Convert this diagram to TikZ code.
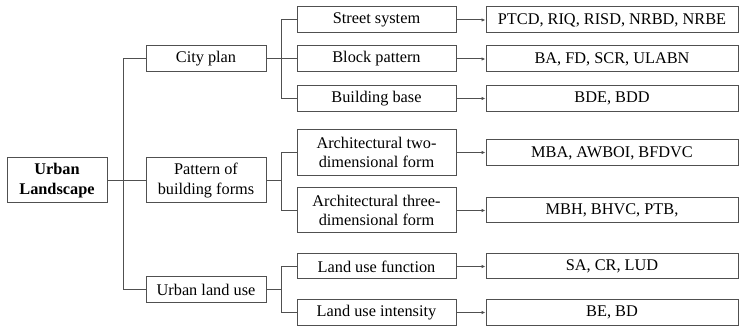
\documentclass[tikz,border=0pt]{standalone}
\usepackage{fontspec}
\setmainfont{Liberation Serif}
\newfontfamily\tnr{Liberation Serif}
\usetikzlibrary{arrows.meta}
\definecolor{lc}{HTML}{505050}
\begin{document}
\begin{tikzpicture}[x=1pt,y=-1pt,
  box/.style={draw=lc,line width=1pt,inner sep=0pt,align=center,font=\tnr\fontsize{16.3}{19.5}\selectfont,text=black},
  mid/.style={box,minimum width=120pt},
  sub/.style={box,minimum width=159pt},
  res/.style={box,minimum width=252pt},
  ln/.style={draw=lc,line width=1pt},
  arr/.style={ln,-{Latex[length=4pt,width=3.5pt]}}]
\useasboundingbox (0,0) rectangle (740,328);
\node[box,minimum width=100pt,minimum height=45pt,font=\tnr\bfseries\fontsize{16.3}{19.5}\selectfont] (ul) at (57,180.5) {Urban\\Landscape};
\node[mid,minimum height=26pt] (city) at (206,59) {City plan};
\node[mid,minimum height=45pt] (pat) at (206,180.5) {Pattern of\\building forms};
\node[mid,minimum height=26pt] (use) at (206,290) {Urban land use};
\node[sub,minimum height=26pt] (street) at (376.5,20) {Street system};
\node[sub,minimum height=26pt] (block) at (376.5,59) {Block pattern};
\node[sub,minimum height=26pt] (base) at (376.5,98.5) {Building base};
\node[sub,minimum height=46pt] (two) at (376.5,152.5) {Architectural two-\\dimensional form};
\node[sub,minimum height=45pt] (three) at (376.5,210.5) {Architectural three-\\dimensional form};
\node[sub,minimum height=25pt] (func) at (376.5,266.5) {Land use function};
\node[sub,minimum height=26pt] (inten) at (376.5,312.5) {Land use intensity};
\node[res,minimum height=26pt] (r1) at (612,20) {PTCD, RIQ, RISD, NRBD, NRBE};
\node[res,minimum height=26pt] (r2) at (612,59) {BA, FD, SCR, ULABN};
\node[res,minimum height=26pt] (r3) at (612,98.5) {BDE, BDD};
\node[res,minimum height=26pt] (r4) at (612,153) {MBA, AWBOI, BFDVC};
\node[res,minimum height=25pt] (r5) at (612,210.5) {MBH, BHVC, PTB,};
\node[res,minimum height=25pt] (r6) at (612,266.5) {SA, CR, LUD};
\node[res,minimum height=26pt] (r7) at (612,312.5) {BE, BD};
\coordinate (t0) at (123,180.5);
\coordinate (t1) at (281,59);
\coordinate (t2) at (281,180.5);
\coordinate (t3) at (281,290);
\draw[ln] (ul.east) -- (t0) (t0) |- (city.west) (t0) |- (use.west) (t0) -- (pat.west);
\draw[ln] (city.east) -- (t1) (t1) |- (street.west) (t1) |- (base.west) (t1) -- (block.west);
\draw[ln] (pat.east) -- (t2) (t2) |- (two.west) (t2) |- (three.west);
\draw[ln] (use.east) -- (t3) (t3) |- (func.west) (t3) |- (inten.west);
\foreach \a/\b in {street/r1,block/r2,base/r3,two/r4,three/r5,func/r6,inten/r7}
  \draw[arr] (\a.east) -- (\a.east -| \b.west);
\end{tikzpicture}
\end{document}
